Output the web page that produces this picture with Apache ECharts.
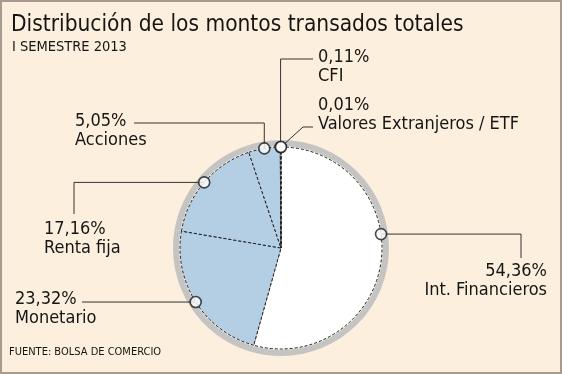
<!DOCTYPE html>
<html><head><meta charset="utf-8">
<script src="https://cdn.jsdelivr.net/npm/echarts@6/dist/echarts.min.js"></script>
<style>html,body{margin:0;padding:0;background:#fcefdd}#c{width:562px;height:374px}</style>
</head><body><div id="c"></div>
<script>
const categories = ['Int. Financieros', 'Monetario', 'Renta fija', 'Acciones', 'CFI', 'Valores Extranjeros / ETF'];
const values = [54.36, 23.32, 17.16, 5.05, 0.11, 0.01];
const valueLabels = ['54,36%', '23,32%', '17,16%', '5,05%', '0,11%', '0,01%'];
const titleText = 'Distribución de los montos transados totales';
const subtitleText = 'I SEMESTRE 2013';
const sourceText = 'FUENTE: BOLSA DE COMERCIO';

const FONT = '"DejaVu Sans Condensed", "DejaVu Sans", sans-serif';
const CX = 281, CY = 248, R = 101;
const total = values.reduce((a, b) => a + b, 0);
const mids = []; let acc = 0;
values.forEach(v => { mids.push((acc + v / 2) / total * 100); acc += v; });
// leader-line anchors on the rim (percent of circle), as placed in the picture
const anchorPct = mids.slice();
anchorPct[0] = 22.8;

function anchorXY(i) {
  const t = anchorPct[i] / 100 * Math.PI * 2;
  return [CX + R * Math.sin(t), CY - R * Math.cos(t)];
}
// label placement (style/layout)
const labelPlace = [
  { x: 547, y: 262, align: 'right', pts: a => [a, [521, a[1]], [521, 258]] },
  { x: 15, y: 290, align: 'left', pts: a => [a, [82, a[1]], [82, a[1]]] },
  { x: 44, y: 220, align: 'left', pts: a => [a, [74, a[1]], [74, 214]] },
  { x: 75, y: 112, align: 'left', pts: a => [a, [a[0], 123], [134, 123]] },
  { x: 318, y: 48, align: 'left', pts: a => [a, [a[0], 59], [313, 59]] },
  { x: 318, y: 96, align: 'left', pts: a => [a, [303, 127], [313, 127]] }
];

const BLUE = '#b4cee4';
const sliceColors = ['#ffffff', BLUE, BLUE, BLUE, BLUE, BLUE];

const chart = echarts.init(document.getElementById('c'), null, { renderer: 'canvas' });
chart.setOption({
  backgroundColor: '#fcefdd',
  animation: false,
  title: [
    { text: titleText, left: 11, top: 14, padding: 0, textStyle: { fontSize: 22.5, fontWeight: 'normal', color: '#151515', fontFamily: FONT } },
    { text: subtitleText, left: 12, top: 40, padding: 0, textStyle: { fontSize: 14.5, fontWeight: 'normal', color: '#151515', fontFamily: FONT } },
    { text: sourceText, left: 9, top: 347, padding: 0, textStyle: { fontSize: 11, fontWeight: 'normal', color: '#151515', fontFamily: FONT } }
  ],
  polar: { center: [CX, CY], radius: R },
  angleAxis: { type: 'value', min: 0, max: 100, startAngle: 90, clockwise: true, show: false },
  radiusAxis: { type: 'value', min: 0, max: 1, show: false },
  series: [
    {
      type: 'pie', silent: true, z: 1,
      center: [CX, CY], radius: [R + 1, R + 7], startAngle: 90, clockwise: true,
      label: { show: false }, labelLine: { show: false },
      itemStyle: { color: '#c4c4c4', borderWidth: 0 },
      data: values.map((v, i) => ({ name: categories[i], value: v }))
    },
    {
      type: 'pie', silent: true, z: 2,
      center: [CX, CY], radius: [0, R], startAngle: 90, clockwise: true,
      avoidLabelOverlap: false,
      data: values.map((v, i) => ({ name: categories[i], value: v, itemStyle: { color: sliceColors[i] } })),
      itemStyle: { borderColor: '#222', borderWidth: 1, borderType: [3, 2] },
      label: {
        show: true, position: 'outer', alignTo: 'none',
        formatter: p => valueLabels[p.dataIndex] + '\n' + p.name,
        fontFamily: FONT, fontSize: 18, lineHeight: 19, color: '#151515'
      },
      labelLine: { show: true, lineStyle: { color: '#333', width: 1 } },
      labelLayout: function (params) {
        const i = params.dataIndex, lp = labelPlace[i];
        return { x: lp.x, y: lp.y, align: lp.align, verticalAlign: 'top', labelLinePoints: lp.pts(anchorXY(i)) };
      }
    },
    {
      type: 'scatter', coordinateSystem: 'polar', silent: true, z: 5,
      symbol: 'circle', symbolSize: 11,
      itemStyle: { color: '#ffffff', borderColor: '#1a1a1a', borderWidth: 1.6 },
      data: anchorPct.map(p => [1, p])
    }
  ],
  graphic: [
    { type: 'rect', z: 100, silent: true, shape: { x: 1, y: 1, width: 560, height: 372 }, style: { fill: null, stroke: '#a99a90', lineWidth: 2 } }
  ]
});
</script>
</body></html>
